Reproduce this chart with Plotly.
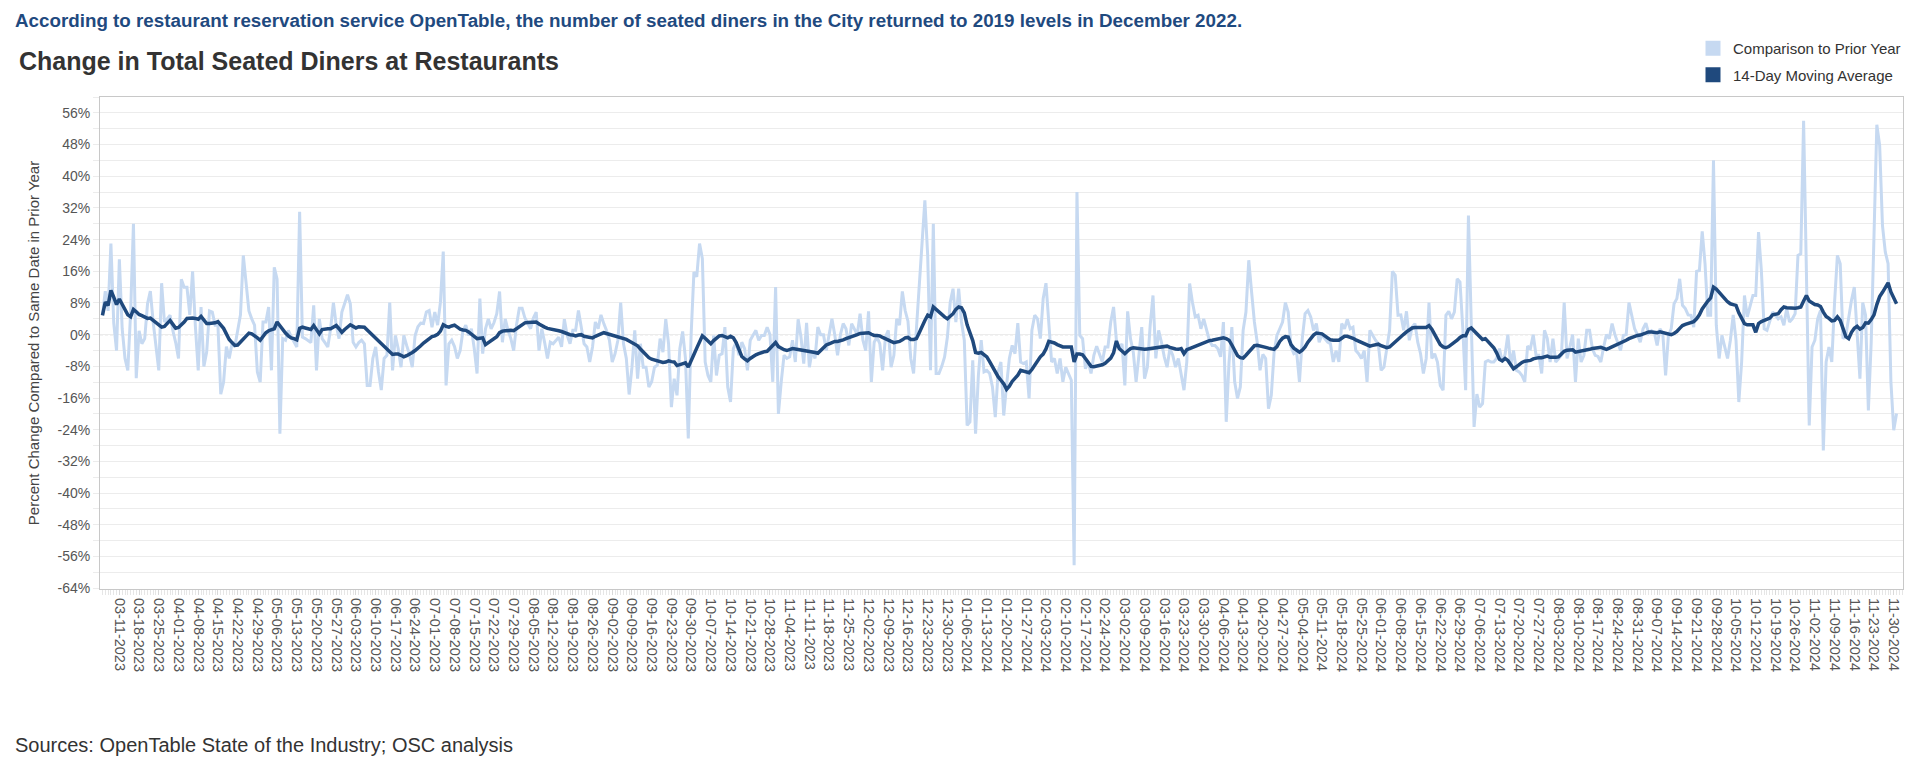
import pandas as pd
import plotly.graph_objects as go

# ---------------- data ----------------
START_DATE = "2023-03-05"

# Daily % change vs same date in prior year
comparison_mar_may_2023 = [  # 2023-03-05 .. 2023-05-24
    4.9, 11, 6, 23, 3, -4, 19, 1.5, -6, -9,
    5.7, 28, -11, 1, -2.3, -1, 7.8, 11, 3.2, -3,
    -9, 13, 3.2, 4, 4.9, 1, -2, -6, 14, 12,
    12, 5, 16, 2, -9, 7, -8, -4.4, 6, 5.7,
    2.4, 2.4, -15, -12, -3, -6, -2.3, -3, 1.5, 5,
    20, 12, 6, 4, 2.4, -9.4, -12, 3.2, 3.2, 7,
    -9, 17, 14, -25, -1, -1.4, 1.1, -0.5, -1.9, -3.1,
    31, -0.6, -1, -1.5, -2, 7.4, -9, 4, -1, -2,
    -3.1]
comparison_may_aug_2023 = [  # 2023-05-25 .. 2023-08-10
    1.5, 8.1, 2.4, -1, 5.7, 8, 10.1, 7.8, -1.9, -3.1,
    -2, -1.4, -2.3, -12.8, -12.8, -6, -3.1, -9.4, -14, -6,
    -5.2, 8.1, -9, -0.2, -3.5, -8.2, -0.2, -2.7, -5, -8.2,
    -0.2, 2, 2.9, 2.8, 5.7, 6.1, 1.9, 5.7, 2.4, 8.2,
    21, -12.8, -2.3, -1.4, -3, -6, -4, 1, 2.4, -0.2,
    1.5, -3.5, -9.8, 9.1, -4.8, 1.5, 4, 1.5, 3, 5.3,
    10.9, -1.9, 4, 1.1, -1, -4, 2.4, 6.7, 6.7, 4.2,
    3, 1.5, 4.2, 5.7, -4, 1.5, -2, -6]
comparison_aug_oct_2023 = [  # 2023-08-11 .. 2023-10-31
    -1.9, -2.3, -1.5, -0.6, -3.1, 3.9, -0.2, -2.3, 1.1, 1.1,
    6.1, 2.4, -2.3, -3.1, -6.9, -3.1, 3.2, 1.5, 5, 2.8,
    1, -1.4, -6.9, -4.8, -1.4, 8.1, -2.3, -6, -15.1, -8.2,
    1.1, -11.1, -2.3, -8.2, -8.2, -13.2, -11.9, -8.2, -7.7, -1,
    -4.4, 3.9, -2.3, -18.3, -11.1, -15.3, -3.5, 0.8, -6, -26.2,
    -0.2, 15.8, 14.6, 23, 19.2, -6.9, -10.3, -11.9, -0.2, -10.3,
    -5.2, -4.8, 1.9, -13.2, -17, -3.5, -1.9, -5.2, -1.9, -3.5,
    -9, -1.4, 0, 1.1, -1.4, -0.2, -0.2, 1.9, 0, -11.9,
    12, -20]
comparison_nov_2023_jan_2024 = [  # 2023-11-01 .. 2024-01-19
    -11.9, -5.2, -6, -5.6, -1.4, -6.9, 3.9, -0.6, -7.3, 3,
    -8.2, -4, -6, 1.9, 0, 0, -4, 0, 4, 0,
    -5.2, 0, 2.8, 1.5, -2.7, 2.8, 1.5, 0, 5.3, -1.4,
    -4, 5.9, -11.9, -1.9, -0.6, -2.3, -9, -0.6, 1.1, -8.2,
    -5.2, 4, 2.4, 10.9, 6.1, 3.4, -6, -9.8, 1.5, 13.3,
    24, 33.9, 20, -9, 28, -9.8, -9.8, -8, -5.6, -0.6,
    8.2, 11.6, 3.2, 11.6, 3.2, -1.4, -22.9, -22, -6.5, -25,
    -10.3, -1.4, -9.4, -9, -9.8, -13.2, -20.8, -9.4, -6.9, -20.4]
comparison_jan_apr_2024 = [  # 2024-01-20 .. 2024-04-08
    -12.8, -6, -2.7, -4.8, 2.9, -6.9, -7.3, -6.9, -16.1, 1.1,
    4.9, 4, -1, 9.1, 13, 3.2, -6.9, -6, -9.8, -6,
    -11.9, -8.2, -9.8, -11.5, -58.2, 36, -0.2, -1, -8.6, -6.9,
    -9.8, -5.2, -2.9, -4.8, -6.9, -3.1, -3.1, 3.2, 7, -1.4,
    -3.5, -2.3, -12.8, 5.9, -1, -4.4, -11.9, -5.2, 1.9, -11.1,
    -8.2, 2.4, 9.9, -6, 1.1, -1.9, -5.6, -8.2, -3.5, -5.2,
    -8.2, -6, -9.8, -14, -6.9, 12.9, 8.2, 4.5, 4.9, 1.5,
    4, 1.1, -1.4, -2.7, -2.7, -3.5, -5.6, 3.2, -22, -6.9]
comparison_apr_jun_2024 = [  # 2024-04-09 .. 2024-06-25
    1.9, -11.9, -16.1, -13.2, 1.1, 5.7, 18.8, 10.8, 3.2, -1.9,
    -9, -5, -6, -18.7, -15.3, -4.4, -0.2, 1.5, 3.2, 8.1,
    5.7, -3.1, -4.8, -4.4, -11.9, -1, 5.3, 6.1, 4.5, 1.1,
    2.8, -1.9, 0, -1, -1.9, -2.3, -6.9, -4, -6.9, 2.8,
    1.5, 3.9, 1.5, 1.9, -4, -4.8, -6, -4, -11.9, 1.1,
    -0.2, -1.4, -2.3, -9, -8.2, -4, 1.1, 16, 15, 4.9,
    5, 1.1, 5.9, -1.4, 1.9, 2.8, -1.9, -4.8, -9.8, -6,
    8.1, -6, -4.8, -6.9, -12.8, -14, 4.9, 5.9]
comparison_jun_sep_2024 = [  # 2024-06-26 .. 2024-09-12
    4, 5.7, 14.1, 13.3, 1.5, -14, 30.1, 3, -23.3, -15,
    -18.3, -17.4, -6.9, -6.5, -6.9, -6.9, -6, -3.5, -6.9, -5,
    0, -7.7, -4, -9, -9.4, -10.3, -11.9, -2.9, -3.5, 0,
    -5.2, -5.2, -9.8, 1.1, -1, -6.9, -1, -6.9, -6, -5.2,
    8.1, -6, -3.1, 0, -11.9, -1, -6.9, -5.2, 1.1, 1.1,
    -3.5, -5.2, -5.5, -6.9, -3.1, 0, -1, 2.8, 0, -2.3,
    -4, -0.2, 0, 8.1, 4.9, 1.5, 0, -1.9, 1.5, 2.9,
    0.3, 1, 0.5, -2.7, 1.5, 0.3, -10.3, -0.2, 1.5]
comparison_sep_dec_2024 = [  # 2024-09-13 .. 2024-12-01
    7.8, 9.1, 14.1, 7.4, 6.6, 5, 4.9, 1.9, 16, 16.2,
    26.1, 17.9, 4.9, 4.9, 44, 2.4, -6, -0.2, -3.5, -6,
    -1.4, 5, -1.4, -17, -6.9, 9.9, 4.5, 7.4, 9.9, 9.9,
    25.9, 16.2, 1.5, 1.1, 3.2, 5.7, 4.9, 4, 4.5, 2.4,
    6.6, 3.2, 4, 5.3, 20, 20.4, 54, 15, -22.9, -3.1,
    -1.4, 4, 6.1, -29.2, -6.9, -3.1, -6.9, 8.2, 20, 17.9,
    -1, -0.2, 4.9, 8.7, 12, -0.2, -11.1, 8.1, 4.9, -19.1,
    -1.9, 25.1, 53, 47.8, 27.6, 20.9, 17.9, -11.9, -24.1, -19.9]

# 14-day moving average
moving_avg_mar_may_2023 = [
    4.9, 8.2, 7.4, 11.2, 9.5, 7.6, 9, 7.6, 6.2, 5,
    4.5, 6.4, 5.8, 5.1, 4.8, 4.4, 4.1, 4.2, 3.6, 2.9,
    2.4, 1.9, 2.1, 2.8, 3.6, 2.6, 1.6, 1.8, 2.4, 3.2,
    4.1, 4.2, 4.2, 4.1, 3.9, 4.6, 3.6, 2.8, 2.8, 2.8,
    3, 3.3, 2.5, 1.6, 0.2, -1.2, -2, -2.7, -2.6, -1.8,
    -0.9, -0.1, 0.4, 0.2, -0.2, -0.8, -1.4, -0.5, 0.5, 1,
    1.3, 1.5, 3.2, 2.2, 1.5, 0.4, -0.3, -0.8, -1, -1.3,
    1.6, 1.9, 1.7, 1.5, 1.3, 2.3, 1.3, 0.2, 1.3, 1.5,
    1.5]
moving_avg_may_aug_2023 = [
    1.5, 1.9, 2.3, 1.5, 0.6, 1.3, 2, 2.5, 2.1, 1.7,
    2, 2, 1.9, 1.2, 0.5, -0.2, -0.9, -1.6, -2.3, -3,
    -3.6, -4.3, -5, -4.9, -4.9, -5.2, -5.6, -5.3, -5, -4.5,
    -4, -3.5, -2.8, -2.1, -1.5, -0.9, -0.5, -0.3, 0.1, 0.9,
    2.5, 2.1, 1.9, 2.2, 2.4, 1.9, 1.4, 1.2, 1.1, 0.7,
    0.2, -0.4, -1, -0.9, -0.8, -2.5, -2, -1.7, -1.2, -0.5,
    0.5, 0.9, 1, 1.1, 1.1, 1, 1.5, 2.1, 2.6, 3,
    3.1, 3.2, 3.2, 3.2, 2.7, 2.2, 1.9, 1.6]
moving_avg_aug_oct_2023 = [
    1.5, 1.4, 1.3, 1, 0.8, 0.5, 0.2, 0, -0.1, -0.3,
    -0.1, 0, -0.4, -0.6, -0.7, -0.8, -0.4, 0, 0.2, 0.5,
    0.3, 0.1, -0.1, -0.4, -0.6, -0.6, -0.8, -1.2, -1.6, -2,
    -2.2, -2.8, -3.6, -4.4, -5.1, -5.8, -6.2, -6.4, -6.6, -6.8,
    -7, -6.9, -6.6, -6.8, -6.9, -7.8, -7.6, -7.3, -7.1, -8.2,
    -6.8, -5, -3.4, -1.9, -0.3, -0.9, -1.6, -2.3, -1.5, -0.8,
    -0.3, -0.2, -0.4, -0.8, -0.4, -0.8, -2, -3.8, -5.5, -6.1,
    -6.6, -6, -5.5, -5.1, -4.8, -4.5, -4.3, -4.2, -3.4, -2.6,
    -2, -3]
moving_avg_nov_2023_jan_2024 = [
    -3.5, -3.8, -4, -3.8, -3.5, -3.6, -3.7, -3.8, -3.9, -4.1,
    -4.3, -4.4, -4.5, -4.7, -4, -3, -2.6, -2.3, -2, -1.7,
    -1.7, -1.6, -1.3, -1, -0.8, -0.5, -0.2, 0, 0.3, 0.3,
    0.3, 0.5, 0.1, -0.2, -0.2, -0.3, -0.7, -1.1, -1.4, -1.7,
    -2, -1.9, -1.7, -1.3, -0.8, -0.7, -1.2, -1.2, -1, 0.5,
    2.2, 3.6, 4.9, 4.5, 7, 6.3, 5.6, 5, 4.5, 4,
    4.6, 5.3, 6.4, 7, 6.8, 5.5, 2.5, 0.5, -1.5, -4.5,
    -4.7, -4.5, -5, -5.6, -6.8, -8.2, -9.5, -10.6, -11.5, -12.4]
moving_avg_jan_apr_2024 = [
    -13.8, -13, -11.8, -11, -10.2, -9, -9.2, -9.4, -9.6, -8.8,
    -7.6, -6.4, -5.6, -4.9, -3.6, -1.7, -1.8, -2.1, -2.5, -2.8,
    -3.1, -3.1, -3.1, -3.1, -6.9, -4.9, -4.9, -5.1, -6, -7,
    -8, -8.1, -8, -7.9, -7.6, -7.2, -6.6, -5.9, -4.6, -1.6,
    -3.5, -4.3, -4.8, -4.1, -3.5, -3.3, -3.4, -3.7, -3.8, -3.7,
    -3.6, -3.5, -3.4, -3.1, -3, -2.9, -2.9, -2.9, -3.2, -3.5,
    -3.6, -3.7, -3.5, -4.8, -3.8, -3.5, -3.2, -2.9, -2.6, -2.3,
    -1.9, -1.7, -1.5, -1.4, -1.3, -1.2, -1, -0.8, -1, -1.4]
moving_avg_apr_jun_2024 = [
    -2.6, -4, -5.3, -5.8, -5.9, -5.2, -4.3, -3.5, -2.8, -2.7,
    -2.8, -3, -3.2, -3.4, -3.5, -3.7, -3, -1.7, -0.9, -0.5,
    -0.6, -2.5, -3.4, -3.9, -4.4, -3.9, -3.1, -1.9, -1, -0.1,
    0.4, 0.4, 0.2, -0.3, -0.8, -1.3, -1.4, -1.4, -1.4, -0.9,
    -0.4, -0.4, -0.6, -0.9, -1.3, -1.6, -1.8, -2.1, -2.6, -2.9,
    -2.7, -2.5, -2.4, -2.8, -3.1, -3.3, -3.1, -2.4, -1.7, -1.1,
    -0.5, 0.1, 0.7, 1.2, 1.7, 1.8, 1.8, 1.7, 1.7, 1.8,
    2.3, 1.4, 0.1, -1.3, -2.5, -3.1, -3.3, -3]
moving_avg_jun_sep_2024 = [
    -2.5, -2, -1.4, -0.7, -0.3, -0.3, 1.3, 1.7, 1, 0.3,
    -0.6, -1.2, -1, -1.8, -2.6, -3.3, -4.6, -6.2, -6.6, -6,
    -6.5, -7.6, -8.6, -8.1, -7.4, -7, -6.7, -6.6, -6.5, -6.1,
    -5.9, -5.8, -5.8, -5.6, -5.4, -5.7, -5.8, -5.7, -5.6, -5,
    -4.2, -3.9, -3.8, -3.8, -4.4, -4.3, -4.2, -4.1, -3.9, -3.7,
    -3.5, -3.3, -3.3, -3.2, -3.4, -3.7, -3.4, -3.1, -2.8, -2.5,
    -2.2, -1.9, -1.4, -1, -0.7, -0.4, -0.2, -0.1, 0.2, 0.6,
    0.7, 0.7, 0.6, 0.5, 0.7, 0.5, 0.3, 0.1, 0]
moving_avg_sep_dec_2024 = [
    0.3, 0.8, 1.6, 2.3, 2.6, 2.9, 3.1, 3.3, 4, 5,
    6.5, 7.6, 8.5, 9.3, 12, 11.5, 10.6, 9.9, 9.1, 8.3,
    7.8, 7.6, 7.4, 5.5, 4, 2.8, 2.5, 2.4, 2.5, 0.6,
    2.8, 3.3, 3.6, 3.9, 4.2, 5, 5.1, 5.3, 6.3, 7,
    6.8, 6.7, 6.6, 6.7, 6.8, 7, 8.5, 9.9, 8.5, 8,
    7.6, 7.5, 7.1, 5.7, 4.6, 4.1, 3.5, 3.6, 4.5, 3.6,
    1.5, -0.5, -1, 0.6, 1.6, 2.1, 1.4, 1.8, 3, 2.9,
    3.8, 5, 7.6, 9.6, 10.7, 11.8, 13.1, 10.8, 9.2, 7.8]

comparison = (comparison_mar_may_2023 + comparison_may_aug_2023 + comparison_aug_oct_2023
              + comparison_nov_2023_jan_2024 + comparison_jan_apr_2024 + comparison_apr_jun_2024
              + comparison_jun_sep_2024 + comparison_sep_dec_2024)
moving_avg = (moving_avg_mar_may_2023 + moving_avg_may_aug_2023 + moving_avg_aug_oct_2023
              + moving_avg_nov_2023_jan_2024 + moving_avg_jan_apr_2024 + moving_avg_apr_jun_2024
              + moving_avg_jun_sep_2024 + moving_avg_sep_dec_2024)
assert len(comparison) == 638, len(comparison)
assert len(moving_avg) == 638, len(moving_avg)

dates = pd.date_range(START_DATE, periods=len(comparison), freq="D")

Y_TICKS = list(range(-64, 57, 8))
Y_TICK_LABELS = [f"{v}%" for v in Y_TICKS]

SERIES_NAMES = ["Comparison to Prior Year", "14-Day Moving Average"]
LIGHT = "#C6D9F1"
DARK = "#1F497D"
FONT = "Arial, 'Liberation Sans', sans-serif"

# ---------------- figure ----------------
fig = go.Figure()
fig.add_trace(go.Scatter(x=dates, y=comparison, mode="lines", name=SERIES_NAMES[0],
                         line=dict(color=LIGHT, width=3), showlegend=False))
fig.add_trace(go.Scatter(x=dates, y=moving_avg, mode="lines", name=SERIES_NAMES[1],
                         line=dict(color=DARK, width=3.5), showlegend=False))
# legend swatches (squares)
for nm, col, grp in [(SERIES_NAMES[0], LIGHT, "a"), (SERIES_NAMES[1], DARK, "b")]:
    fig.add_trace(go.Scatter(x=[None], y=[None], mode="markers", name=nm, legendgroup=grp,
                             marker=dict(symbol="square", size=15, color=col)))

fig.add_hline(y=0, line=dict(color="#b5b5b5", width=1, dash="3px,2px"), layer="below")

W, H = 1920, 769
L, R, T, B = 100, 17, 97, 180
pw, ph = W - L - R, H - T - B


def px_x(x):
    return (x - L) / pw


def px_y(y):
    return (H - B - y) / ph


fig.update_layout(
    width=W, height=H,
    margin=dict(l=L, r=R, t=T, b=B, autoexpand=False),
    paper_bgcolor="white", plot_bgcolor="white",
    font=dict(family=FONT, color="#555555", size=14),
    legend=dict(xref="container", yref="container", x=1693 / W, y=1 - 32 / H,
                xanchor="left", yanchor="top", font=dict(size=15, color="#333333"),
                traceorder="grouped", tracegroupgap=4, bgcolor="rgba(0,0,0,0)"),
    xaxis=dict(
        type="date",
        range=["2023-03-04 03:00", "2024-12-03 07:00"],
        tick0="2023-03-11", dtick=7 * 86400000, tickformat="%m-%d-%Y", tickangle=90,
        ticks="outside", ticklen=5, tickcolor="#d9d9d9",
        minor=dict(dtick=86400000, ticks="outside", ticklen=5, tickcolor="#e6e6e6"),
        showgrid=False, showline=True, linecolor="#c8c8c8", linewidth=1, mirror=True,
        tickfont=dict(size=14.5, color="#555555"),
    ),
    yaxis=dict(
        range=[-64.2, 60], tickvals=Y_TICKS, ticktext=Y_TICK_LABELS,
        showgrid=True, gridcolor="#ececec", gridwidth=1,
        minor=dict(dtick=4, tick0=0, showgrid=True, gridcolor="#ececec", ticks="outside",
                   ticklen=6, tickcolor="#ececec"),
        ticks="outside", ticklen=6, tickcolor="#ececec",
        zeroline=False, showline=True, linecolor="#c8c8c8", linewidth=1, mirror=True,
        tickfont=dict(size=14, color="#555555"),
        title=dict(text="Percent Change Compared to Same Date in Prior Year",
                   font=dict(size=15, color="#444444"), standoff=14),
    ),
)

fig.add_annotation(text="<b>According to restaurant reservation service OpenTable, the number of seated diners in the City returned to 2019 levels in December 2022.</b>",
                   xref="paper", yref="paper", x=px_x(13), y=px_y(21), xanchor="left", yanchor="middle",
                   showarrow=False, font=dict(size=18.8, color="#1F4A7F", family=FONT))
fig.add_annotation(text="<b>Change in Total Seated Diners at Restaurants</b>",
                   xref="paper", yref="paper", x=px_x(17), y=px_y(61), xanchor="left", yanchor="middle",
                   showarrow=False, font=dict(size=25, color="#333333", family=FONT))
fig.add_annotation(text="Sources: OpenTable State of the Industry; OSC analysis",
                   xref="paper", yref="paper", x=px_x(13), y=px_y(745), xanchor="left", yanchor="middle",
                   showarrow=False, font=dict(size=20, color="#333333", family=FONT))

fig.write_html("out.html", config={"displayModeBar": False},
               post_script="document.body.style.margin='0';")
